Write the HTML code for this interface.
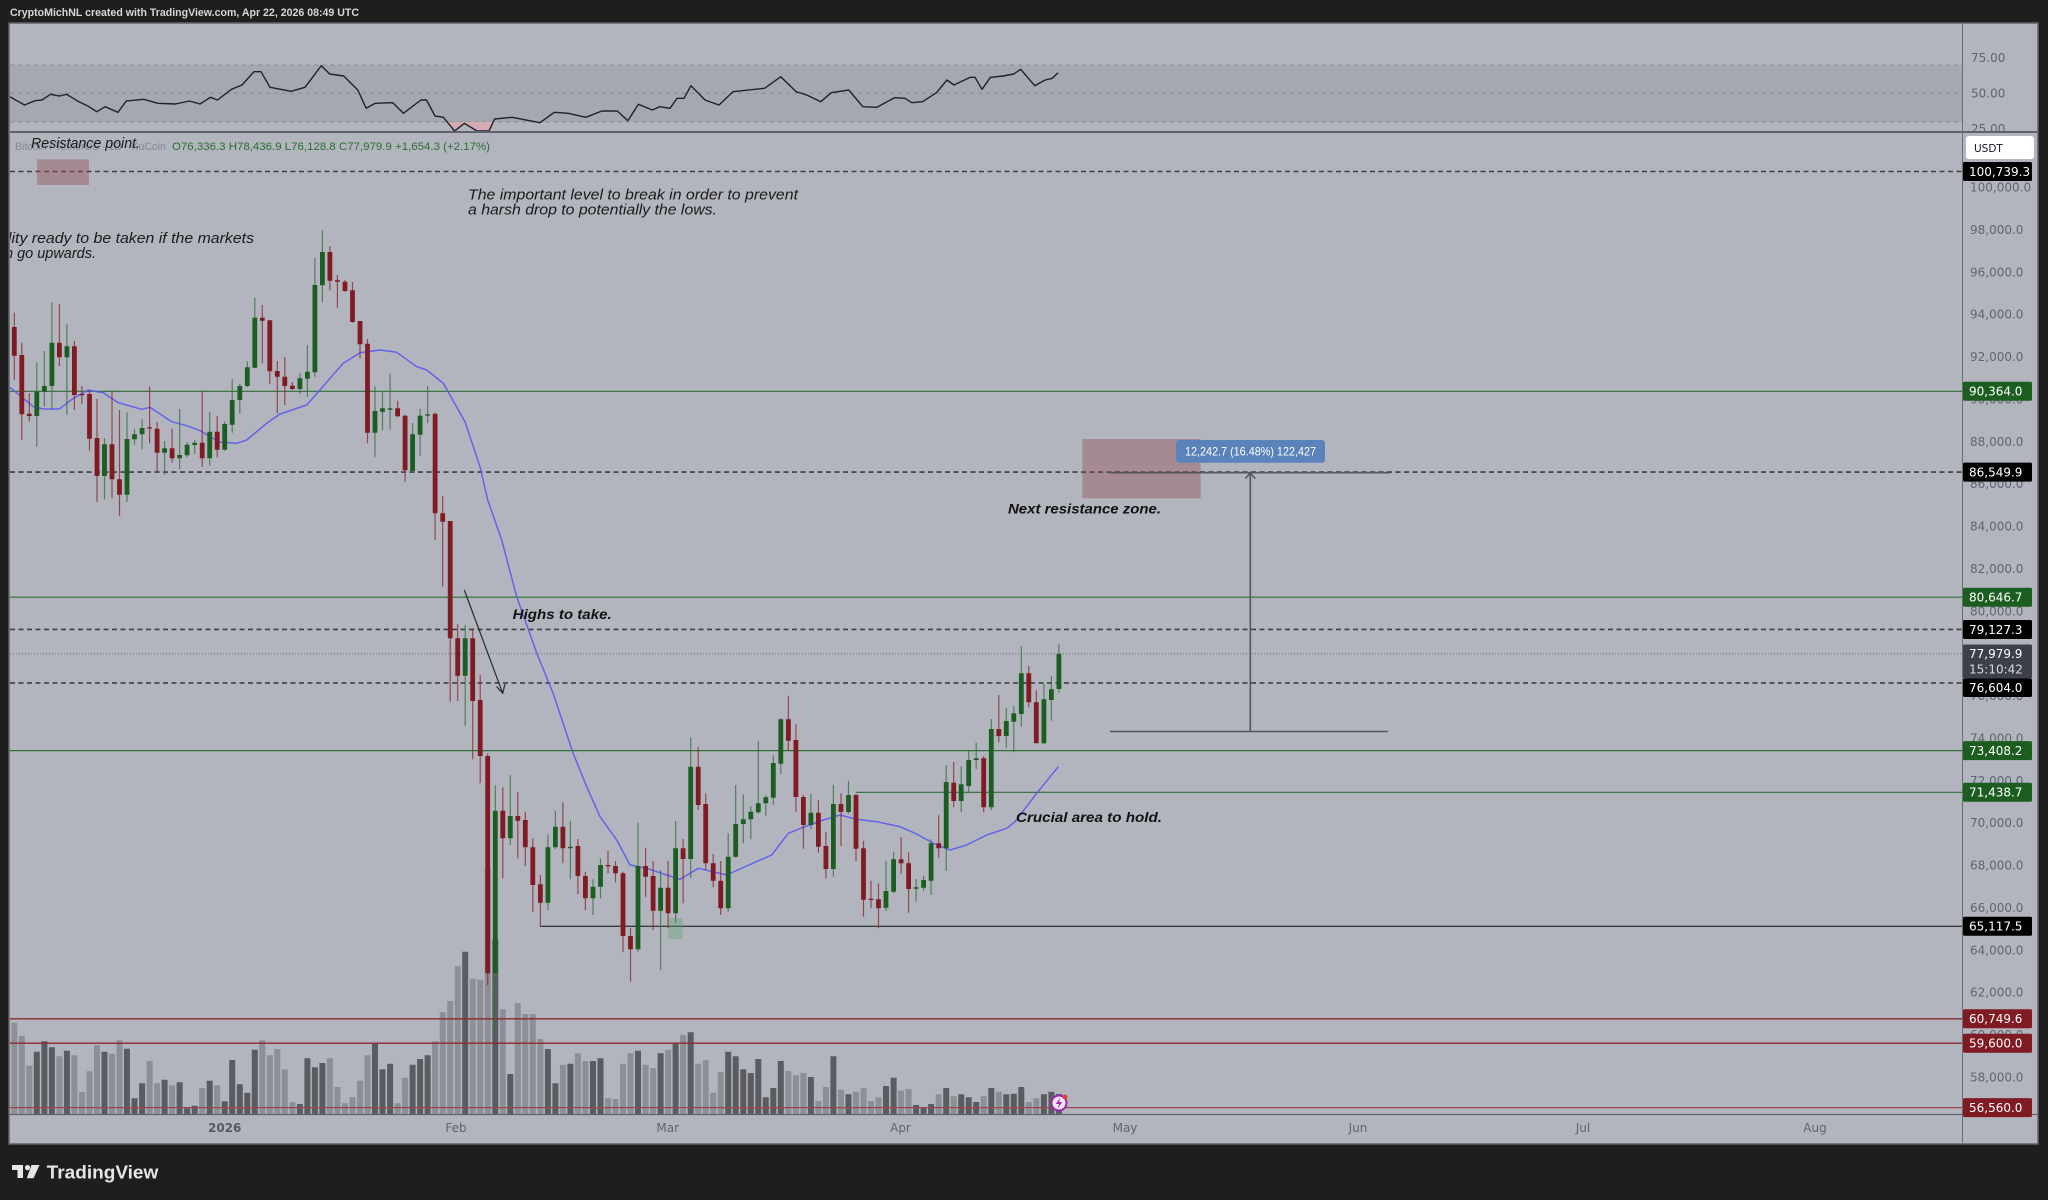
<!DOCTYPE html>
<html><head><meta charset="utf-8"><style>
html,body{margin:0;padding:0;background:#1e1e1e;width:2048px;height:1200px;overflow:hidden}
svg{display:block}
.ax{font-family:"DejaVu Sans",sans-serif;font-size:12px;fill:#62656f}
.lb{font-family:"DejaVu Sans",sans-serif;font-size:12px;fill:#ffffff}
.it{font-family:"Liberation Sans",sans-serif;font-style:italic;font-size:14.5px;fill:#1a1a1a}
.bi{font-family:"Liberation Sans",sans-serif;font-style:italic;font-weight:bold;font-size:13.5px;fill:#111}
</style></head><body>
<svg width="2048" height="1200" viewBox="0 0 2048 1200" xmlns="http://www.w3.org/2000/svg">
<defs>
<clipPath id="mc"><rect x="10" y="133" width="1952" height="981"/></clipPath>
<clipPath id="rc"><rect x="10" y="24" width="1952" height="107"/></clipPath>
<clipPath id="rac"><rect x="1963" y="24" width="75" height="107"/></clipPath>
</defs>
<rect x="0" y="0" width="2048" height="1200" fill="#1e1e1e"/>
<text x="10" y="16" font-family="Liberation Sans, sans-serif" font-size="11" font-weight="bold" fill="#d6d6d6" textLength="349" lengthAdjust="spacingAndGlyphs">CryptoMichNL created with TradingView.com, Apr 22, 2026 08:49 UTC</text>
<!-- chart area -->
<rect x="9" y="23" width="2029" height="1121" fill="#b2b5bd" stroke="#5f626b" stroke-width="1.5"/>
<!-- RSI pane -->
<g clip-path="url(#rc)">
<rect x="10" y="65" width="1952" height="57" fill="#a5a8b0"/>
<g stroke="#878a93" stroke-width="1" stroke-dasharray="4 4">
<path d="M10 65H1962M10 93.3H1962M10 122H1962"/>
</g>
<polygon points="447.2,122 454.6,131 464.4,123.3 477,131 489,131 493.2,122" fill="#d6aab4"/>
<polyline fill="none" stroke="#222226" stroke-width="1.4" stroke-linejoin="round" points="9.8,96.7 24.6,105 35,100.7 42,100 50.5,94.3 59.6,96 66.6,94.3 77,100.7 87.7,106 96.8,111.7 105.2,106.7 117.9,112.3 126.3,101 143.8,99.3 157.8,103.3 175.4,104 189.4,101 200,104 210.4,97.3 217.5,100 231.5,89.3 242,85 254,71.7 261,71.7 270,87.3 291,91.3 305,87.3 321.3,65.7 329.7,74 343.7,76 357.8,90 366.2,108.3 375.3,103.3 392.8,102.7 403.4,113.3 420.9,100 426.5,100 435,116 443.4,117.3 454.6,131 464.4,123.3 477,131 489,131 494.6,119 512,117.3 540,122.7 554.2,112.3 568.2,113.3 585.8,117.3 601.9,111 617.3,111 627.9,120.7 638.4,104.3 652.4,110 659.4,106.7 670,108.3 677,98.3 684,98.3 691,85.7 705,100 719,105 733,91.7 764.6,88.3 780.8,76.7 796.2,91.7 806.7,95 820.8,101.7 831.3,92.7 848.8,90 862.8,106.7 877,107.3 894.4,97.7 905,98.3 912,102.7 922.5,101.7 936.5,92.7 947,80 954,85 970.2,77.3 975,77.3 982,89.3 990.5,77.3 1003.2,76 1013.7,74 1020.7,69.3 1034.7,85.7 1045.2,80 1052.3,78.3 1058,72.7"/>
</g>
<g clip-path="url(#rac)">
<text class="ax" x="1971" y="62">75.00</text>
<text class="ax" x="1971" y="97.5">50.00</text>
<text class="ax" x="1971" y="133">25.00</text>
</g>
<!-- separators -->
<path d="M10 132H2037" stroke="#5f626b" stroke-width="2"/>
<path d="M1962.5 23V1144" stroke="#6a6d76" stroke-width="1"/>
<path d="M10 1114.5H2037" stroke="#5f626b" stroke-width="1.2"/>

<g clip-path="url(#mc)">
<!-- volume -->
<path fill="#8d8f96" d="M11.3 1022.7h6V1114h-6zM18.8 1036h6V1114h-6zM26.3 1065.7h6V1114h-6zM56.4 1056.3h6V1114h-6zM71.4 1055.3h6V1114h-6zM78.9 1092h6V1114h-6zM86.5 1071.3h6V1114h-6zM94 1045.3h6V1114h-6zM109 1053.7h6V1114h-6zM116.5 1040.3h6V1114h-6zM146.6 1061h6V1114h-6zM154.1 1083.3h6V1114h-6zM169.1 1085.3h6V1114h-6zM199.2 1088h6V1114h-6zM214.2 1085.3h6V1114h-6zM259.3 1040.3h6V1114h-6zM266.8 1055.3h6V1114h-6zM274.3 1049h6V1114h-6zM281.8 1069.3h6V1114h-6zM289.4 1102.3h6V1114h-6zM326.9 1058.3h6V1114h-6zM334.4 1087h6V1114h-6zM342 1103.3h6V1114h-6zM349.5 1097.3h6V1114h-6zM357 1080.7h6V1114h-6zM364.5 1055.3h6V1114h-6zM394.6 1103.3h6V1114h-6zM402.1 1077.7h6V1114h-6zM432.1 1041.3h6V1114h-6zM439.7 1012.3h6V1114h-6zM447.2 1001h6V1114h-6zM454.7 966.3h6V1114h-6zM469.7 978.7h6V1114h-6zM477.2 979.7h6V1114h-6zM484.7 868h6V1114h-6zM499.8 1009.3h6V1114h-6zM514.8 1003h6V1114h-6zM522.3 1014h6V1114h-6zM529.8 1014h6V1114h-6zM537.4 1039h6V1114h-6zM559.9 1064.7h6V1114h-6zM574.9 1053.3h6V1114h-6zM582.4 1061h6V1114h-6zM605 1098.3h6V1114h-6zM612.5 1099h6V1114h-6zM620 1063.7h6V1114h-6zM627.5 1053.3h6V1114h-6zM642.6 1064.7h6V1114h-6zM650.1 1068.3h6V1114h-6zM665.1 1049.7h6V1114h-6zM680.1 1035h6V1114h-6zM695.2 1063.7h6V1114h-6zM702.7 1060.3h6V1114h-6zM710.2 1092.7h6V1114h-6zM717.7 1072h6V1114h-6zM785.4 1071h6V1114h-6zM792.9 1075h6V1114h-6zM800.4 1073h6V1114h-6zM815.4 1101h6V1114h-6zM822.9 1087h6V1114h-6zM838 1089.7h6V1114h-6zM853 1091.7h6V1114h-6zM860.5 1088h6V1114h-6zM868 1101h6V1114h-6zM875.5 1097.3h6V1114h-6zM898.1 1090.7h6V1114h-6zM905.6 1089h6V1114h-6zM935.7 1094.3h6V1114h-6zM950.7 1096.3h6V1114h-6zM980.7 1096.3h6V1114h-6zM995.8 1091.7h6V1114h-6zM1025.8 1102h6V1114h-6zM1033.3 1098.3h6V1114h-6z"/>
<path fill="#5b5c61" d="M33.8 1051.7h6V1114h-6zM41.4 1041.3h6V1114h-6zM48.9 1047.3h6V1114h-6zM63.9 1050.7h6V1114h-6zM101.5 1051.7h6V1114h-6zM124 1048.7h6V1114h-6zM131.5 1098.3h6V1114h-6zM139.1 1083.3h6V1114h-6zM161.6 1079.7h6V1114h-6zM176.6 1082.3h6V1114h-6zM184.1 1108.3h6V1114h-6zM191.7 1105.7h6V1114h-6zM206.7 1080.7h6V1114h-6zM221.7 1101.3h6V1114h-6zM229.2 1060h6V1114h-6zM236.8 1084.3h6V1114h-6zM244.3 1092.7h6V1114h-6zM251.8 1049.7h6V1114h-6zM296.9 1104h6V1114h-6zM304.4 1058.3h6V1114h-6zM311.9 1067.3h6V1114h-6zM319.4 1063h6V1114h-6zM372 1043.7h6V1114h-6zM379.5 1069.3h6V1114h-6zM387.1 1063.7h6V1114h-6zM409.6 1064.7h6V1114h-6zM417.1 1059h6V1114h-6zM424.6 1055.3h6V1114h-6zM462.2 951.7h6V1114h-6zM492.3 939.3h6V1114h-6zM507.3 1074h6V1114h-6zM544.9 1049h6V1114h-6zM552.4 1083.3h6V1114h-6zM567.4 1063.7h6V1114h-6zM590 1061h6V1114h-6zM597.5 1058.3h6V1114h-6zM635 1050.7h6V1114h-6zM657.6 1053.3h6V1114h-6zM672.6 1043.3h6V1114h-6zM687.7 1032.3h6V1114h-6zM725.2 1051.7h6V1114h-6zM732.7 1056.3h6V1114h-6zM740.3 1069.3h6V1114h-6zM747.8 1073h6V1114h-6zM755.3 1059h6V1114h-6zM762.8 1097.3h6V1114h-6zM770.3 1088h6V1114h-6zM777.8 1061h6V1114h-6zM807.9 1077h6V1114h-6zM830.4 1056.3h6V1114h-6zM845.5 1094.3h6V1114h-6zM883 1086h6V1114h-6zM890.6 1077.7h6V1114h-6zM913.1 1105h6V1114h-6zM920.6 1107.7h6V1114h-6zM928.1 1104h6V1114h-6zM943.2 1088h6V1114h-6zM958.2 1094.3h6V1114h-6zM965.7 1097.3h6V1114h-6zM973.2 1102h6V1114h-6zM988.3 1088h6V1114h-6zM1003.3 1094.3h6V1114h-6zM1010.8 1093.7h6V1114h-6zM1018.3 1087h6V1114h-6zM1040.9 1094.3h6V1114h-6zM1048.4 1091.7h6V1114h-6zM1055.9 1094h6V1114h-6z"/>

<!-- horizontal levels -->
<g fill="none">
<path d="M10 171.5H1962M10 472.1H1962M10 629.4H1962M10 682.9H1962" stroke="#3e3f45" stroke-width="1.6" stroke-dasharray="5 3.5"/>
<path d="M10 653.7H1962" stroke="#6a6d76" stroke-width="1" stroke-dasharray="1 2"/>
<path d="M10 391.3H1962M10 597.2H1962M10 750.6H1962M855.7 792.3H1962" stroke="#2f6e35" stroke-width="1.2"/>
<path d="M540 926.3H1962" stroke="#3a3b40" stroke-width="1.4"/>
<path d="M10 1018.8H1962M10 1043.2H1962" stroke="#8a2a30" stroke-width="1.3"/>
<path d="M10 1107.6H1962" stroke="#a0444c" stroke-width="1.2"/>
</g>

<!-- rectangles -->
<rect x="37" y="159.3" width="52" height="25.7" fill="rgba(147,74,82,0.4)"/>
<rect x="1082.3" y="439" width="118.4" height="59.3" fill="rgba(147,74,82,0.4)"/>
<rect x="668" y="918" width="14.7" height="21" fill="rgba(90,160,100,0.35)"/>

<!-- MA -->
<polyline fill="none" stroke="#5a5af0" stroke-width="1.5" stroke-opacity="0.9" stroke-linejoin="round" points="10,387.3 33.3,406.7 43.3,409 59.3,409 73.3,398.3 88.3,390 103.3,392.7 118.3,402.7 141.7,409.3 150,407.3 171.7,421.7 186.7,425.7 200,430.7 220,442.3 236.7,443.3 246.7,440 266.7,423.3 280,414 306.7,405 320,390 330,378.3 343.3,363.3 360,352.7 380,350 396.7,352.3 416.7,366.7 426.7,370 443.3,383.3 465,421.7 480,466.7 487.7,500 501.7,540 516.7,596.7 536.7,653 553,693 573,753 586.7,786.7 600,816.7 616.7,840 630,865 646.7,868.3 666.7,875 680,879.3 698.3,868.3 726.7,875 746.7,866 771.7,855 788.3,833.3 803.3,827.3 823.3,820 840,815 856.7,819.3 876.7,821.7 900,826.7 916.7,834 933.3,843.3 950,850 966.7,845 986.7,835 1006.7,828.3 1015,821.7 1036.7,793.3 1058.3,766.7"/>

<!-- wicks -->
<path fill="none" stroke="#3a7040" stroke-width="1.2" stroke-opacity="0.8" d="M36.8 362.3V446.7M44.4 351V406.7M51.9 302.3V409.3M66.9 324V414.7M104.5 438V499.3M127 412.3V502M134.5 428.7V444.7M142.1 419.3V449.3M164.6 441V474.7M179.6 409V469.3M187.1 442V457.3M194.7 440V454M209.7 412.3V465.7M224.7 421.7V450.7M232.2 379V432.7M239.8 384V414M247.3 361.3V387.3M254.8 297.7V368.3M299.9 372.7V394M307.4 345.3V396.7M314.9 257.7V376.7M322.4 230.3V302.3M375 386.3V457.3M382.5 391.7V430.3M390.1 373.7V429.3M412.6 423V472.3M420.1 408.7V456M427.6 386V423.3M465.2 625V725.7M495.3 785.3V1035M510.3 775.3V845M547.9 834.3V910M555.4 810.7V849.3M570.4 820.7V879.3M593 879.3V915M600.5 858.3V898.3M638 822.7V951.7M660.6 870V970M675.6 821V922.7M690.7 737.3V877.7M728.2 833.3V911.7M735.7 785V857.7M743.3 794.3V843.3M750.8 806V839.3M758.3 740.7V813.7M765.8 795.3V815.7M773.3 755.3V804.7M780.8 718.3V774M810.9 793.7V829M833.4 784.7V876.7M848.5 780.7V813.7M886 860.7V911M893.6 852.3V893.3M916.1 879V901.7M923.6 875.7V890.7M931.1 839.3V895M946.2 765V871M961.2 766V812M968.7 750V793.3M976.2 742.7V769.3M991.3 719V810M1006.3 708V747.7M1013.8 706V752.3M1021.3 646V726.7M1043.9 683.7V744.3M1051.4 676.3V720.7M1058.9 644.3V692.7"/>
<path fill="none" stroke="#8c2a33" stroke-width="1.2" stroke-opacity="0.8" d="M14.3 312.7V380M21.8 342.7V440M29.3 393.3V421.7M59.4 304V366M74.4 341V410M81.9 386V404M89.5 390V450.7M97 399V502M112 391.3V498.3M119.5 410V516M149.6 386.7V443.3M157.1 422V471.7M172.1 428.7V462.7M202.2 391.3V466.7M217.2 416V457.3M262.3 305V363.3M269.8 320.3V384M277.3 361V413.3M284.8 357V405M292.4 382V390M329.9 246V290.3M337.4 275V308M345 280V292M352.5 282V322.7M360 321V358.3M367.5 339V443.3M397.6 400.7V416.7M405.1 414.7V481.7M435.1 412.7V540M442.7 496V586.7M450.2 521V701.7M457.7 624V701M472.7 628.3V759.3M480.2 675V783.3M487.7 753.3V985M502.8 787.3V878.3M517.8 792.3V858.3M525.3 811.7V866M532.8 838.3V911.7M540.4 875V926.7M562.9 802.3V863.3M577.9 839V894M585.4 871.7V910M608 850.7V873.3M615.5 861V882.3M623 871.7V952.3M630.5 928.3V981.7M645.6 847.7V896.7M653.1 861V930M668.1 861V928.3M683.1 839V903.3M698.2 747.3V810M705.7 793.3V870M713.2 854V887.3M720.7 861V915M788.4 695.7V750.7M795.9 724V812M803.4 794.7V848.7M818.4 800.3V852.7M825.9 832V878.7M841 793.3V846M856 794V861M863.5 840.7V916.7M871 880.7V908.3M878.5 883.3V928.3M901.1 837V873.7M908.6 852.3V912.7M938.7 815.3V857.7M953.7 762V807.3M983.7 756V812.3M998.8 695V742.3M1028.8 666V707.3M1036.3 690.3V743.3"/>

<!-- bodies -->
<path fill="#1c5e22" d="M34.4 391.7h4.8V416h-4.8zM42 386h4.8V391.7h-4.8zM49.5 342.7h4.8V386h-4.8zM64.5 346.3h4.8V357.3h-4.8zM102.1 444.3h4.8V476h-4.8zM124.6 439h4.8V494.7h-4.8zM132.1 434.3h4.8V439.3h-4.8zM139.7 428h4.8V434.3h-4.8zM162.2 448.3h4.8V452.7h-4.8zM177.2 455h4.8V458.3h-4.8zM184.7 444.7h4.8V455.3h-4.8zM192.3 442.7h4.8V445h-4.8zM207.3 431.7h4.8V458.3h-4.8zM222.3 424h4.8V449.7h-4.8zM229.8 400h4.8V424.7h-4.8zM237.4 386h4.8V400h-4.8zM244.9 367.3h4.8V386h-4.8zM252.4 317.7h4.8V367.7h-4.8zM297.5 378.3h4.8V389h-4.8zM305 371.7h4.8V378.7h-4.8zM312.5 285h4.8V372.3h-4.8zM320 252h4.8V285.3h-4.8zM372.6 411h4.8V432.7h-4.8zM380.1 408.3h4.8V411.7h-4.8zM387.7 408.3h4.8V409.7h-4.8zM410.2 434.3h4.8V471h-4.8zM417.7 415.7h4.8V434.7h-4.8zM425.2 414.3h4.8V415.6h-4.8zM462.8 638.3h4.8V675.7h-4.8zM492.9 810.7h4.8V973.3h-4.8zM507.9 816h4.8V838.3h-4.8zM545.5 847.3h4.8V902.7h-4.8zM553 826.7h4.8V847.3h-4.8zM568 846.7h4.8V848.3h-4.8zM590.6 886.7h4.8V898.3h-4.8zM598.1 865h4.8V886.7h-4.8zM635.6 866h4.8V949.3h-4.8zM658.2 887.7h4.8V910.7h-4.8zM673.2 848.3h4.8V913.3h-4.8zM688.3 766.7h4.8V859h-4.8zM725.8 856.7h4.8V908.3h-4.8zM733.3 824h4.8V856.7h-4.8zM740.9 819.3h4.8V824h-4.8zM748.4 811.7h4.8V819.3h-4.8zM755.9 803.3h4.8V812.3h-4.8zM763.4 797.3h4.8V803.3h-4.8zM770.9 763h4.8V797.7h-4.8zM778.4 719.3h4.8V763.7h-4.8zM808.5 812.7h4.8V825h-4.8zM831 804h4.8V869h-4.8zM846.1 795h4.8V812h-4.8zM883.6 891h4.8V907.7h-4.8zM891.2 859.3h4.8V891.7h-4.8zM913.7 887.3h4.8V888.7h-4.8zM921.2 880h4.8V887.7h-4.8zM928.7 843.3h4.8V880.7h-4.8zM943.8 782h4.8V848.3h-4.8zM958.8 784.3h4.8V801h-4.8zM966.3 760h4.8V786h-4.8zM973.8 758.3h4.8V760h-4.8zM988.9 729h4.8V807.3h-4.8zM1003.9 721h4.8V736h-4.8zM1011.4 713.3h4.8V721.7h-4.8zM1018.9 673.3h4.8V714h-4.8zM1041.5 699.3h4.8V743.3h-4.8zM1049 689.3h4.8V700h-4.8zM1056.5 654h4.8V689h-4.8z"/>
<path fill="#801b24" d="M11.9 327h4.8V355.7h-4.8zM19.4 355h4.8V414.3h-4.8zM26.9 413.7h4.8V416h-4.8zM57 342.7h4.8V357.3h-4.8zM72 346.3h4.8V395h-4.8zM79.5 394h4.8V395.2h-4.8zM87.1 394h4.8V438.7h-4.8zM94.6 438h4.8V476h-4.8zM109.6 444.3h4.8V479.3h-4.8zM117.1 479.3h4.8V494.7h-4.8zM147.2 427.3h4.8V428.5h-4.8zM154.7 428.7h4.8V452.7h-4.8zM169.7 448.3h4.8V458.3h-4.8zM199.8 442.7h4.8V458.3h-4.8zM214.8 431.7h4.8V449.7h-4.8zM259.9 317.7h4.8V320.7h-4.8zM267.4 320.3h4.8V371.3h-4.8zM274.9 371h4.8V376.7h-4.8zM282.4 376.7h4.8V386h-4.8zM290 385.7h4.8V389h-4.8zM327.5 252h4.8V280.7h-4.8zM335 280.3h4.8V281.7h-4.8zM342.6 281.7h4.8V291h-4.8zM350.1 290.3h4.8V322h-4.8zM357.6 321h4.8V344.3h-4.8zM365.1 343.7h4.8V432.7h-4.8zM395.2 408.3h4.8V416.3h-4.8zM402.7 415.7h4.8V470.3h-4.8zM432.7 413.7h4.8V513.3h-4.8zM440.3 513.3h4.8V521.7h-4.8zM447.8 521h4.8V638.3h-4.8zM455.3 638.3h4.8V675.7h-4.8zM470.3 638.3h4.8V701h-4.8zM477.8 700h4.8V756h-4.8zM485.3 756h4.8V973.3h-4.8zM500.4 810.7h4.8V838.3h-4.8zM515.4 816h4.8V820.7h-4.8zM522.9 820h4.8V847.3h-4.8zM530.4 847.3h4.8V885h-4.8zM538 884.3h4.8V902.7h-4.8zM560.5 826.7h4.8V848.3h-4.8zM575.5 846h4.8V876h-4.8zM583 876h4.8V898.3h-4.8zM605.6 865h4.8V866.2h-4.8zM613.1 866h4.8V873.3h-4.8zM620.6 873.3h4.8V936h-4.8zM628.1 936h4.8V949.3h-4.8zM643.2 866h4.8V876.7h-4.8zM650.7 876h4.8V910.7h-4.8zM665.7 887.7h4.8V913.3h-4.8zM680.7 848.3h4.8V859h-4.8zM695.8 766.7h4.8V805h-4.8zM703.3 804h4.8V863.3h-4.8zM710.8 863.3h4.8V880.7h-4.8zM718.3 880.7h4.8V908.3h-4.8zM786 719.3h4.8V740.7h-4.8zM793.5 740h4.8V797h-4.8zM801 797h4.8V825h-4.8zM816 812.7h4.8V846.7h-4.8zM823.5 846h4.8V869h-4.8zM838.6 804h4.8V812h-4.8zM853.6 795h4.8V848.7h-4.8zM861.1 848.3h4.8V899.7h-4.8zM868.6 898.7h4.8V900h-4.8zM876.1 899.3h4.8V908.3h-4.8zM898.7 859.3h4.8V863.3h-4.8zM906.2 863.3h4.8V889h-4.8zM936.3 843.3h4.8V848.3h-4.8zM951.3 782.7h4.8V801h-4.8zM981.3 758.3h4.8V807.3h-4.8zM996.4 729h4.8V736h-4.8zM1026.4 673.3h4.8V702.3h-4.8zM1033.9 702.3h4.8V743.3h-4.8z"/>

<!-- measurement tool -->
<g stroke="#55565c" stroke-width="1.6" fill="none">
<path d="M1109.3 472.7H1390M1110 731.5H1388M1250.3 731.5V474"/>
<path d="M1245.3 478.5L1250.3 473.2L1255.3 478.5"/>
</g>
<rect x="1176" y="440" width="149" height="22.7" rx="3" fill="#5b82bb"/>
<text x="1250.5" y="455.5" text-anchor="middle" font-family="Liberation Sans, sans-serif" font-size="12" fill="#ffffff" textLength="131" lengthAdjust="spacingAndGlyphs">12,242.7 (16.48%) 122,427</text>

<!-- arrow highs -->
<g stroke="#2a2a2e" stroke-width="1.2" fill="none">
<path d="M464.3 590L502.7 693.3"/>
<path d="M496.5 686.5L502.7 693.3L505 684"/>
</g>

<!-- annotations -->
<text class="it" x="468" y="199.5" textLength="330" lengthAdjust="spacingAndGlyphs">The important level to break in order to prevent</text>
<text class="it" x="468" y="214.5" textLength="249" lengthAdjust="spacingAndGlyphs">a harsh drop to potentially the lows.</text>
<text class="it" x="8" y="243" textLength="246" lengthAdjust="spacingAndGlyphs">lity ready to be taken if the markets</text>
<text class="it" x="5" y="258" textLength="91" lengthAdjust="spacingAndGlyphs">n go upwards.</text>
<text class="bi" x="512.7" y="619" textLength="99" lengthAdjust="spacingAndGlyphs">Highs to take.</text>
<text class="bi" x="1008" y="513.5" textLength="153" lengthAdjust="spacingAndGlyphs">Next resistance zone.</text>
<text class="bi" x="1016" y="822" textLength="146" lengthAdjust="spacingAndGlyphs">Crucial area to hold.</text>

<!-- icon -->
<circle cx="1059" cy="1103" r="7.5" fill="#f3e6f6" stroke="#9c27b0" stroke-width="2"/>
<path d="M1060.5 1097.5L1055.8 1104H1059L1057.5 1108.5L1062.2 1102H1059z" fill="#9c27b0"/>
<circle cx="1065" cy="1097" r="2.4" fill="#e53935"/>
</g>

<!-- legend -->
<text x="15" y="150" font-family="Liberation Sans, sans-serif" font-size="11" fill="#858893" textLength="151" lengthAdjust="spacingAndGlyphs">Bitcoin / TetherUS · 1D · KuCoin</text>
<text x="172" y="150" font-family="Liberation Sans, sans-serif" font-size="11" fill="#2b6e33" textLength="318" lengthAdjust="spacingAndGlyphs">O76,336.3 H78,436.9 L76,128.8 C77,979.9 +1,654.3 (+2.17%)</text>
<text class="it" x="31" y="148" font-size="14" textLength="109" lengthAdjust="spacingAndGlyphs">Resistance point.</text>

<!-- price axis ticks -->
<g class="ax">
<text x="1970" y="191.5">100,000.0</text>
<text x="1970" y="233.9">98,000.0</text>
<text x="1970" y="276.3">96,000.0</text>
<text x="1970" y="318.6">94,000.0</text>
<text x="1970" y="361">92,000.0</text>
<text x="1970" y="403.4">90,000.0</text>
<text x="1970" y="445.8">88,000.0</text>
<text x="1970" y="488.1">86,000.0</text>
<text x="1970" y="530.5">84,000.0</text>
<text x="1970" y="572.9">82,000.0</text>
<text x="1970" y="615.3">80,000.0</text>
<text x="1970" y="700.1">76,000.0</text>
<text x="1970" y="742.5">74,000.0</text>
<text x="1970" y="784.8">72,000.0</text>
<text x="1970" y="827.2">70,000.0</text>
<text x="1970" y="869.6">68,000.0</text>
<text x="1970" y="912">66,000.0</text>
<text x="1970" y="954.4">64,000.0</text>
<text x="1970" y="996.7">62,000.0</text>
<text x="1970" y="1039.1">60,000.0</text>
<text x="1970" y="1081.5">58,000.0</text>
</g>
<!-- USDT -->
<rect x="1966" y="136" width="68" height="23" rx="3" fill="#ffffff"/>
<text x="1974" y="152" font-family="DejaVu Sans, sans-serif" font-size="10.5" fill="#131722">USDT</text>
<!-- price labels -->
<g>
<rect x="1963" y="162" width="69" height="19" rx="1.5" fill="#000000"/>
<rect x="1963" y="381.8" width="69" height="19" rx="1.5" fill="#1b5e20"/>
<rect x="1963" y="462.6" width="69" height="19" rx="1.5" fill="#000000"/>
<rect x="1963" y="587.7" width="69" height="19" rx="1.5" fill="#1b5e20"/>
<rect x="1963" y="620" width="69" height="19" rx="1.5" fill="#000000"/>
<rect x="1963" y="644.5" width="69" height="34" rx="1.5" fill="#3e4049"/>
<rect x="1963" y="678.5" width="69" height="18.5" rx="1.5" fill="#000000"/>
<rect x="1963" y="741.1" width="69" height="19" rx="1.5" fill="#1b5e20"/>
<rect x="1963" y="782.8" width="69" height="19" rx="1.5" fill="#1b5e20"/>
<rect x="1963" y="916.8" width="69" height="19" rx="1.5" fill="#000000"/>
<rect x="1963" y="1009.3" width="69" height="19" rx="1.5" fill="#801b24"/>
<rect x="1963" y="1033.7" width="69" height="19" rx="1.5" fill="#801b24"/>
<rect x="1963" y="1098.1" width="69" height="19" rx="1.5" fill="#801b24"/>
</g>
<g class="lb">
<text x="1969" y="175.8">100,739.3</text>
<text x="1969" y="395.6">90,364.0</text>
<text x="1969" y="476.4">86,549.9</text>
<text x="1969" y="601.5">80,646.7</text>
<text x="1969" y="633.8">79,127.3</text>
<text x="1969" y="658">77,979.9</text>
<text x="1969" y="673.5" fill="#d8d9de">15:10:42</text>
<text x="1969" y="692">76,604.0</text>
<text x="1969" y="754.9">73,408.2</text>
<text x="1969" y="796.6">71,438.7</text>
<text x="1969" y="930.6">65,117.5</text>
<text x="1969" y="1023.1">60,749.6</text>
<text x="1969" y="1047.5">59,600.0</text>
<text x="1969" y="1111.9">56,560.0</text>
</g>

<!-- time axis -->
<g class="ax" text-anchor="middle">
<text x="224.7" y="1132" font-weight="bold" fill="#565964">2026</text>
<text x="456" y="1132">Feb</text>
<text x="667.7" y="1132">Mar</text>
<text x="900.5" y="1132">Apr</text>
<text x="1125" y="1132">May</text>
<text x="1358" y="1132">Jun</text>
<text x="1583" y="1132">Jul</text>
<text x="1815" y="1132">Aug</text>
</g>

<!-- bottom logo -->
<g fill="#e6e6e6">
<path d="M12 1165h11v13h-5.5v-8H12z"/>
<circle cx="27.5" cy="1167.6" r="2.6"/>
<path d="M31.5 1165H39.5L33.5 1178.3H26.8z"/>
</g>
<text x="46.7" y="1178.5" font-family="Liberation Sans, sans-serif" font-size="18.5" font-weight="bold" fill="#e6e6e6" textLength="111.6" lengthAdjust="spacingAndGlyphs">TradingView</text>
</svg>
</body></html>
